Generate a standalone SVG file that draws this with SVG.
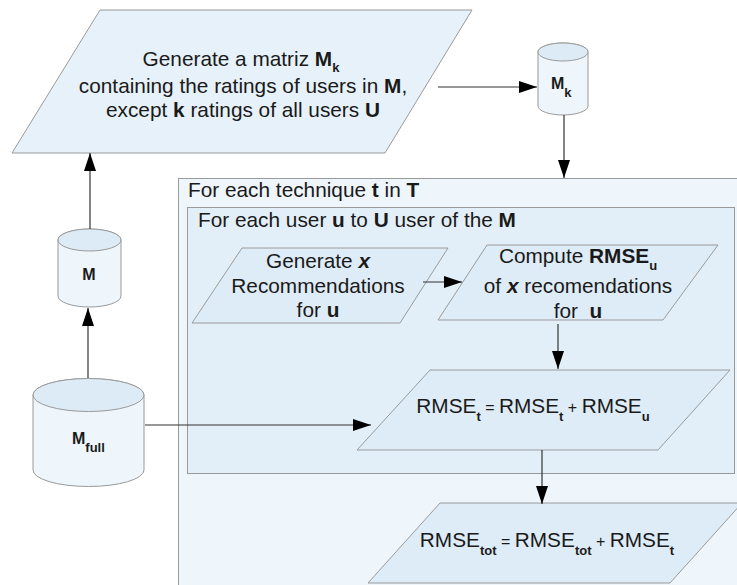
<svg xmlns="http://www.w3.org/2000/svg" width="737" height="585" viewBox="0 0 737 585">
  <style>
    text { font-family: "Liberation Sans", Arial, sans-serif; fill: #1a1a1a; }
    .t20 { font-size: 20.8px; }
    .lbl { font-size: 16px; font-weight: bold; }
    .b { font-weight: bold; }
    .bi { font-weight: bold; font-style: italic; }
    .sub { font-size: 13px; font-weight: bold; }
    .op { font-size: 16px; }
    .para { fill: #deecf7; stroke: #9a9a9a; stroke-width: 1; }
    .cyl { fill: #eef5fb; stroke: #9a9a9a; stroke-width: 1; }
    .cyltop { fill: #dcebf6; stroke: #9a9a9a; stroke-width: 1; }
    .conn { fill: none; stroke: #333333; stroke-width: 1.2; marker-end: url(#arrow); }
  </style>
  <defs>
    <marker id="arrow" markerUnits="userSpaceOnUse" markerWidth="18" markerHeight="12" refX="18" refY="6" orient="auto">
      <path d="M0,0 L18,6 L0,12 Z" fill="#000"/>
    </marker>
  </defs>

  <rect width="737" height="585" fill="#ffffff"/>

  <!-- loop over techniques -->
  <g id="loop-techniques">
    <rect x="178.5" y="178.5" width="600" height="450" fill="#eef5fb" stroke="#9a9a9a"/>
    <text class="t20" x="188" y="197">For each technique <tspan class="b">t</tspan> in <tspan class="b">T</tspan></text>
  </g>

  <!-- loop over users -->
  <g id="loop-users">
    <rect x="187.5" y="207.5" width="547" height="266" fill="#e3eff8" stroke="#9a9a9a"/>
    <text class="t20" x="198" y="227">For each user <tspan class="b">u</tspan> to <tspan class="b">U</tspan> user of the <tspan class="b">M</tspan></text>
  </g>

  <!-- generate the reduced matrix -->
  <g id="generate-mk">
    <polygon class="para" points="100,10 472,10 385,153 12,153" style="fill:#e6f1f9"/>
    <text class="t20" text-anchor="middle" x="241" y="66">Generate a matriz <tspan class="b">M</tspan><tspan class="sub" dy="6">k</tspan></text>
    <text class="t20" text-anchor="middle" x="243" y="93">containing the ratings of users in <tspan class="b">M</tspan>,</text>
    <text class="t20" text-anchor="middle" x="243" y="117">except <tspan class="b">k</tspan> ratings of all users <tspan class="b">U</tspan></text>
  </g>

  <!-- data store Mk -->
  <g id="store-mk">
    <path class="cyl" d="M538,52 A25,9 0 0 1 588,52 L588,106 A25,9 0 0 1 538,106 Z"/>
    <ellipse class="cyltop" cx="563" cy="52" rx="25" ry="9"/>
    <text class="lbl" x="551" y="89">M<tspan class="sub" dy="8">k</tspan></text>
  </g>

  <!-- data store M -->
  <g id="store-m">
    <path class="cyl" d="M58,240 A31.5,11 0 0 1 121,240 L121,296 A31.5,11 0 0 1 58,296 Z"/>
    <ellipse class="cyltop" cx="89.5" cy="240" rx="31.5" ry="11"/>
    <text class="lbl" text-anchor="middle" x="89" y="280">M</text>
  </g>

  <!-- data store Mfull -->
  <g id="store-mfull">
    <path class="cyl" d="M33,395 A55.5,16.5 0 0 1 144,395 L144,470 A55.5,16.5 0 0 1 33,470 Z"/>
    <ellipse class="cyltop" cx="88.5" cy="395" rx="55.5" ry="16.5"/>
    <text class="lbl" x="72" y="444">M<tspan class="sub" dy="8">full</tspan></text>
  </g>

  <!-- generate recommendations -->
  <g id="generate-x">
    <polygon class="para" points="242,248 448,248 400,323 192,323"/>
    <text class="t20" text-anchor="middle" x="318" y="268">Generate <tspan class="bi">x</tspan></text>
    <text class="t20" text-anchor="middle" x="318" y="293">Recommendations</text>
    <text class="t20" text-anchor="middle" x="318" y="317">for <tspan class="b">u</tspan></text>
  </g>

  <!-- compute per-user error -->
  <g id="compute-rmse-u">
    <polygon class="para" points="487,245 718,245 663,320 438,320"/>
    <text class="t20" text-anchor="middle" x="578" y="263">Compute <tspan class="b">RMSE</tspan><tspan class="sub" dy="7">u</tspan></text>
    <text class="t20" text-anchor="middle" x="578" y="293">of <tspan class="bi">x</tspan> recomendations</text>
    <text class="t20" text-anchor="middle" x="578" y="318" xml:space="preserve">for  <tspan class="b">u</tspan></text>
  </g>

  <!-- accumulate per-technique error -->
  <g id="accumulate-t">
    <polygon class="para" points="430,370 730,370 658,450 357,450"/>
    <text class="t20" text-anchor="middle" x="533" y="413">RMSE<tspan class="sub" dy="8">t</tspan><tspan class="op" dy="-8"> = </tspan>RMSE<tspan class="sub" dy="8">t</tspan><tspan class="op" dy="-8"> + </tspan>RMSE<tspan class="sub" dy="8">u</tspan></text>
  </g>

  <!-- accumulate total error -->
  <g id="accumulate-tot">
    <polygon class="para" points="440,503 742,503 670,583 368,583"/>
    <text class="t20" text-anchor="middle" x="547" y="547">RMSE<tspan class="sub" dy="8">tot</tspan><tspan class="op" dy="-8"> = </tspan>RMSE<tspan class="sub" dy="8">tot</tspan><tspan class="op" dy="-8"> + </tspan>RMSE<tspan class="sub" dy="8">t</tspan></text>
  </g>

  <!-- connectors -->
  <g id="connectors">
    <path class="conn" d="M438,87 L537,87"/>
    <path class="conn" d="M564,115 L564,178"/>
    <path class="conn" d="M90,229 L90,153"/>
    <path class="conn" d="M88,378 L88,308"/>
    <path class="conn" d="M145,425 L371,425"/>
    <path class="conn" d="M423,282 L462,282"/>
    <path class="conn" d="M558,324 L558,369"/>
    <path class="conn" d="M542,450 L542,504"/>
  </g>
</svg>
